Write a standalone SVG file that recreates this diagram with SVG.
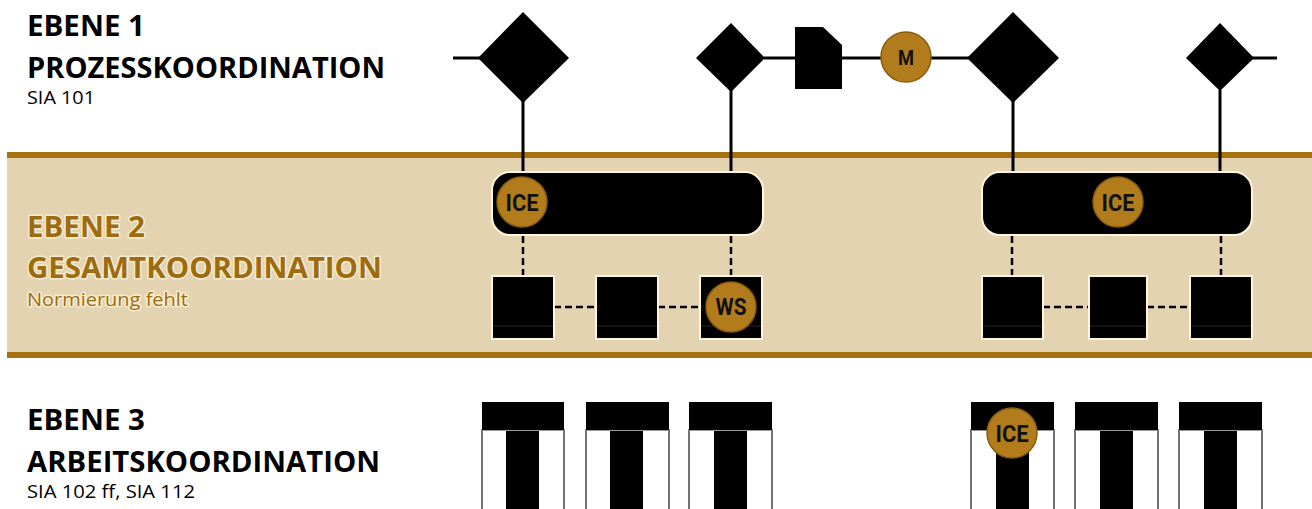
<svg xmlns="http://www.w3.org/2000/svg" width="1312" height="509" viewBox="0 0 1312 509">
  <defs>
    <style>
      .title { font-family: "Open Sans", "Liberation Sans", sans-serif; font-weight: 700; font-size: 29px; }
      .sub { font-family: "Open Sans", "Liberation Sans", sans-serif; font-weight: 400; font-size: 17.5px; }
      .dark { fill: #000; }
      .gold { fill: #9E6C10; }
      .band-text { stroke: #F6ECD2; stroke-width: 3; paint-order: stroke; stroke-linejoin: round; }
      .line { stroke: #000; stroke-width: 3; fill: none; }
      .dash { stroke: #000; stroke-width: 2.5; fill: none; stroke-dasharray: 7 4; }
      .shape { fill: #000; }
      .box { fill: #000; stroke: #FFF6DC; stroke-width: 2; }
      .seam { stroke: #262626; stroke-width: 1; }
      .badge { fill: #B27C1C; stroke: #8A5C0C; stroke-width: 1.5; }
      .badge-text { font-family: Roboto, "Liberation Sans", sans-serif; font-weight: 700; fill: #111; text-anchor: middle; }
      .t-head { fill: #000; }
      .t-body { fill: #fff; stroke: #444; stroke-width: 1.5; }
      .t-seam { stroke: #999; stroke-width: 1; }
    </style>
  </defs>

  <!-- background -->
  <rect x="0" y="0" width="1312" height="509" fill="#fff"/>

  <!-- middle band -->
  <g id="band">
    <rect x="7" y="155" width="1305" height="200" fill="#E3D3B0"/>
    <rect x="7" y="152" width="1305" height="6" fill="#A6710F"/>
    <rect x="7" y="352" width="1305" height="6" fill="#A6710F"/>
  </g>

  <!-- level labels -->
  <g id="label-1">
    <text class="title dark" x="27" y="36" textLength="118" lengthAdjust="spacingAndGlyphs">EBENE 1</text>
    <text class="title dark" x="27" y="78" textLength="358" lengthAdjust="spacingAndGlyphs">PROZESSKOORDINATION</text>
    <text class="sub dark" x="27" y="104" textLength="68" lengthAdjust="spacingAndGlyphs">SIA 101</text>
  </g>
  <g id="label-2">
    <text class="title gold band-text" x="27" y="237" textLength="118" lengthAdjust="spacingAndGlyphs">EBENE 2</text>
    <text class="title gold band-text" x="27" y="278" textLength="355" lengthAdjust="spacingAndGlyphs">GESAMTKOORDINATION</text>
    <text class="sub gold band-text" x="27" y="306" textLength="161" lengthAdjust="spacingAndGlyphs">Normierung fehlt</text>
  </g>
  <g id="label-3">
    <text class="title dark" x="27" y="430" textLength="118" lengthAdjust="spacingAndGlyphs">EBENE 3</text>
    <text class="title dark" x="27" y="472" textLength="353" lengthAdjust="spacingAndGlyphs">ARBEITSKOORDINATION</text>
    <text class="sub dark" x="27" y="498" textLength="168" lengthAdjust="spacingAndGlyphs">SIA 102 ff, SIA 112</text>
  </g>

  <!-- connectors -->
  <g id="connectors">
    <!-- process line -->
    <line class="line" x1="453" y1="58" x2="480" y2="58"/>
    <line class="line" x1="764" y1="58" x2="797" y2="58"/>
    <line class="line" x1="840" y1="58" x2="884" y2="58"/>
    <line class="line" x1="929" y1="58" x2="969" y2="58"/>
    <line class="line" x1="1252" y1="58" x2="1277" y2="58"/>
    <!-- drops into the band -->
    <line class="line" x1="523" y1="100" x2="523" y2="173"/>
    <line class="line" x1="731" y1="90" x2="731" y2="173"/>
    <line class="line" x1="1013" y1="100" x2="1013" y2="173"/>
    <line class="line" x1="1220" y1="90" x2="1220" y2="173"/>
    <!-- dashed links -->
    <line class="dash" x1="523" y1="236" x2="523" y2="276"/>
    <line class="dash" x1="731" y1="236" x2="731" y2="276"/>
    <line class="dash" x1="1012" y1="236" x2="1012" y2="276"/>
    <line class="dash" x1="1221" y1="236" x2="1221" y2="276"/>
    <line class="dash" x1="554" y1="307" x2="596" y2="307"/>
    <line class="dash" x1="658" y1="307" x2="700" y2="307"/>
    <line class="dash" x1="1043" y1="307" x2="1089" y2="307"/>
    <line class="dash" x1="1147" y1="307" x2="1190" y2="307"/>
  </g>

  <!-- level 1 nodes -->
  <g id="diamond-1"><polygon class="shape" points="523,12 569,58 523,103 478,58"/></g>
  <g id="diamond-2"><polygon class="shape" points="731,23 765,58 731,92 696,58"/></g>
  <g id="document"><polygon class="shape" points="795,27 823,27 842,45 842,89 795,89"/></g>
  <g id="badge-m">
    <circle class="badge" cx="906" cy="57" r="25"/>
    <text class="badge-text" x="906" y="65" font-size="20" textLength="16" lengthAdjust="spacingAndGlyphs">M</text>
  </g>
  <g id="diamond-3"><polygon class="shape" points="1013,12 1059,58 1013,103 967,58"/></g>
  <g id="diamond-4"><polygon class="shape" points="1220,23 1254,58 1220,91 1186,58"/></g>

  <!-- level 2 nodes -->
  <g id="group-left">
    <rect class="box" x="492" y="172" width="271" height="63" rx="18"/>
    <circle class="badge" cx="522" cy="202" r="25"/>
    <text class="badge-text" x="522" y="211" font-size="23" textLength="33" lengthAdjust="spacingAndGlyphs">ICE</text>
  </g>
  <g id="group-right">
    <rect class="box" x="982" y="172" width="270" height="63" rx="18"/>
    <circle class="badge" cx="1118" cy="202" r="25"/>
    <text class="badge-text" x="1118" y="211" font-size="23" textLength="33" lengthAdjust="spacingAndGlyphs">ICE</text>
  </g>
  <g id="unit-1"><rect class="box" x="492" y="276" width="62" height="63"/><line class="seam" x1="493" y1="326" x2="553" y2="326"/></g>
  <g id="unit-2"><rect class="box" x="596" y="276" width="62" height="63"/><line class="seam" x1="597" y1="326" x2="657" y2="326"/></g>
  <g id="unit-3">
    <rect class="box" x="700" y="276" width="62" height="63"/><line class="seam" x1="701" y1="326" x2="761" y2="326"/>
    <circle class="badge" cx="731" cy="307" r="25"/>
    <text class="badge-text" x="731" y="315" font-size="23" textLength="31" lengthAdjust="spacingAndGlyphs">WS</text>
  </g>
  <g id="unit-4"><rect class="box" x="982" y="276" width="61" height="63"/><line class="seam" x1="983" y1="326" x2="1042" y2="326"/></g>
  <g id="unit-5"><rect class="box" x="1089" y="276" width="58" height="63"/><line class="seam" x1="1090" y1="326" x2="1146" y2="326"/></g>
  <g id="unit-6"><rect class="box" x="1190" y="276" width="62" height="63"/><line class="seam" x1="1191" y1="326" x2="1251" y2="326"/></g>

  <!-- level 3 nodes -->
  <g id="task-1">
    <rect class="t-body" x="482" y="430" width="82" height="85"/>
    <rect class="t-head" x="482" y="402" width="82" height="28"/>
    <rect class="t-head" x="506" y="430" width="33" height="85"/>
    <line class="t-seam" x1="482" y1="430.5" x2="564" y2="430.5"/>
  </g>
  <g id="task-2">
    <rect class="t-body" x="586" y="430" width="83" height="85"/>
    <rect class="t-head" x="586" y="402" width="83" height="28"/>
    <rect class="t-head" x="610" y="430" width="33" height="85"/>
    <line class="t-seam" x1="586" y1="430.5" x2="669" y2="430.5"/>
  </g>
  <g id="task-3">
    <rect class="t-body" x="689" y="430" width="83" height="85"/>
    <rect class="t-head" x="689" y="402" width="83" height="28"/>
    <rect class="t-head" x="714" y="430" width="33" height="85"/>
    <line class="t-seam" x1="689" y1="430.5" x2="772" y2="430.5"/>
  </g>
  <g id="task-4">
    <rect class="t-body" x="971" y="430" width="83" height="85"/>
    <rect class="t-head" x="971" y="402" width="83" height="28"/>
    <rect class="t-head" x="996" y="430" width="33" height="85"/>
    <line class="t-seam" x1="971" y1="430.5" x2="1054" y2="430.5"/>
    <circle class="badge" cx="1012" cy="433" r="25"/>
    <text class="badge-text" x="1012" y="442" font-size="23" textLength="33" lengthAdjust="spacingAndGlyphs">ICE</text>
  </g>
  <g id="task-5">
    <rect class="t-body" x="1075" y="430" width="83" height="85"/>
    <rect class="t-head" x="1075" y="402" width="83" height="28"/>
    <rect class="t-head" x="1100" y="430" width="33" height="85"/>
    <line class="t-seam" x1="1075" y1="430.5" x2="1158" y2="430.5"/>
  </g>
  <g id="task-6">
    <rect class="t-body" x="1179" y="430" width="83" height="85"/>
    <rect class="t-head" x="1179" y="402" width="83" height="28"/>
    <rect class="t-head" x="1204" y="430" width="33" height="85"/>
    <line class="t-seam" x1="1179" y1="430.5" x2="1262" y2="430.5"/>
  </g>
</svg>
